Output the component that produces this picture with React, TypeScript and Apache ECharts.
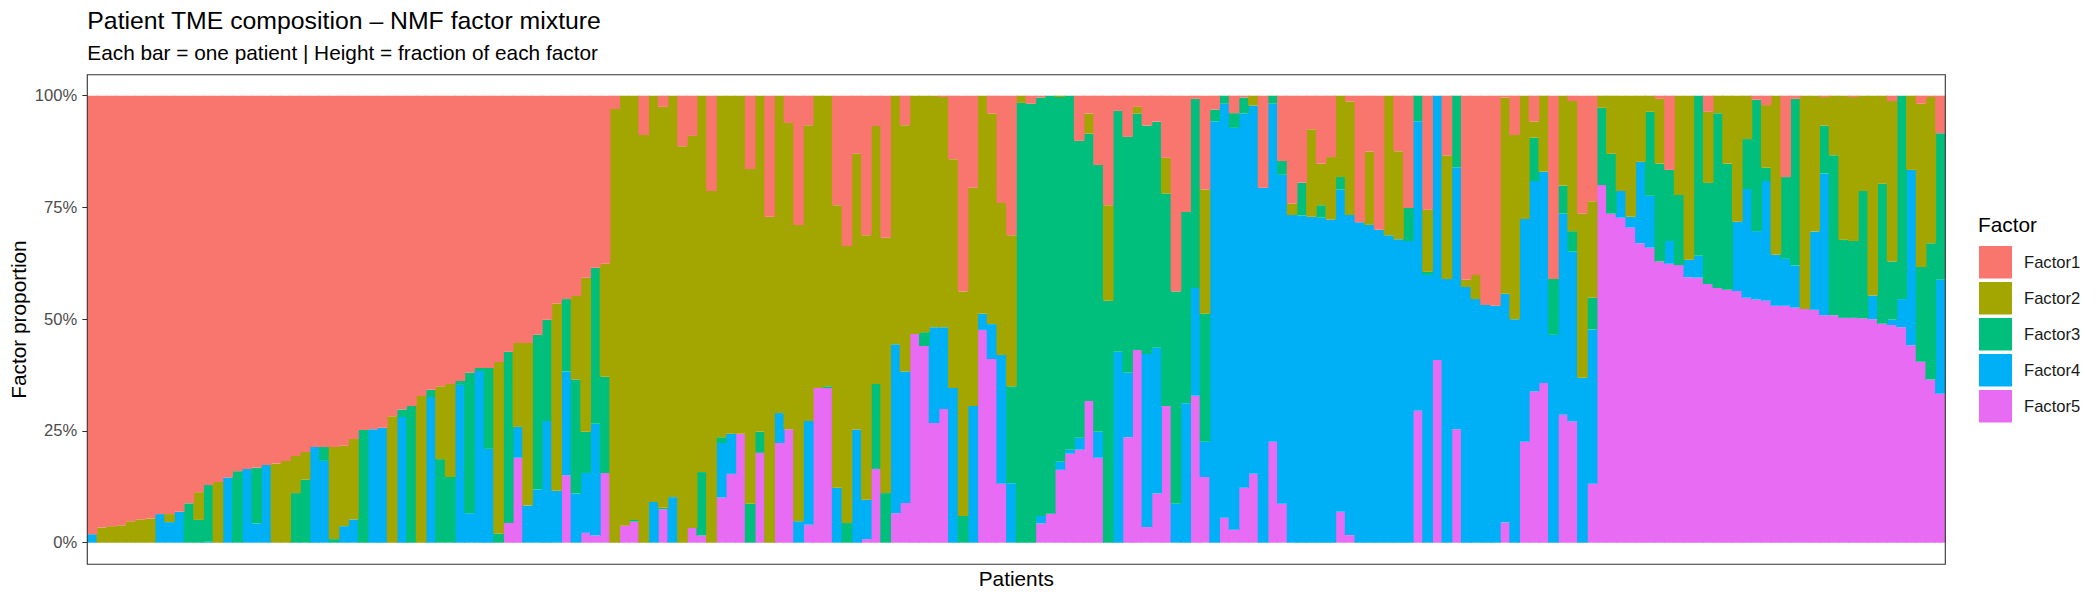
import React, { useEffect, useRef } from 'react';
import * as echarts from 'echarts';

// one column per patient, sorted by dominant factor
const patients = Array.from({ length: 192 }, (_, i) => `P${i + 1}`);

const factorNames = ['Factor1', 'Factor2', 'Factor3', 'Factor4', 'Factor5'];
const factorColors = ['#F8766D', '#A3A500', '#00BF7D', '#00B0F6', '#E76BF3'];

const yTicks = [0, 0.25, 0.5, 0.75, 1];

const factor1 = [
  0.981, 0.966, 0.963, 0.961, 0.952, 0.948, 0.946, 0.936, 0.936, 0.931,
  0.912, 0.887, 0.871, 0.864, 0.854, 0.840, 0.835, 0.832, 0.826, 0.823,
  0.817, 0.806, 0.797, 0.786, 0.786, 0.786, 0.783, 0.768, 0.748, 0.746,
  0.743, 0.717, 0.702, 0.694, 0.672, 0.658, 0.650, 0.645, 0.638, 0.620,
  0.609, 0.609, 0.596, 0.573, 0.553, 0.553, 0.535, 0.501, 0.465, 0.455,
  0.448, 0.407, 0.385, 0.376, 0.030, 0, 0, 0.088, 0, 0.025,
  0, 0.113, 0.090, 0, 0.213, 0, 0, 0, 0.164, 0,
  0.271, 0, 0.061, 0.289, 0.066, 0, 0, 0.245, 0.336, 0.130,
  0.312, 0.068, 0.318, 0, 0.066, 0, 0, 0, 0.003, 0.142,
  0.438, 0.206, 0, 0.040, 0.240, 0.312, 0, 0.018, 0.004, 0,
  0, 0, 0.101, 0.040, 0.155, 0.245, 0.034, 0.092, 0.025, 0.067,
  0.058, 0.139, 0.438, 0.260, 0.007, 0.210, 0.031, 0, 0.039, 0.004,
  0, 0.206, 0, 0.146, 0.242, 0.195, 0.075, 0.152, 0.137, 0,
  0.013, 0.283, 0.125, 0.300, 0, 0.124, 0.251, 0, 0.255, 0,
  0.134, 0, 0.412, 0.401, 0.468, 0.470, 0.004, 0.088, 0, 0.058,
  0, 0.410, 0, 0.012, 0.264, 0.236, 0, 0, 0, 0,
  0, 0, 0.007, 0.166, 0, 0, 0, 0.036, 0, 0,
  0, 0, 0.009, 0.021, 0, 0.182, 0.007, 0, 0, 0.003,
  0, 0, 0.003, 0, 0, 0, 0.012, 0, 0, 0.018,
  0.003, 0.084,
];

const factor2 = [
  0, 0.034, 0.037, 0.039, 0.048, 0.052, 0.054, 0, 0.018, 0,
  0, 0.062, 0, 0.136, 0, 0, 0, 0, 0, 0.177,
  0.183, 0.083, 0.062, 0, 0, 0.206, 0.180, 0.180, 0, 0,
  0, 0.283, 0, 0, 0.328, 0, 0.163, 0.208, 0, 0,
  0, 0, 0.384, 0, 0.188, 0.364, 0, 0, 0.419, 0,
  0.187, 0.345, 0, 0.253, 0.970, 0.962, 0.949, 0.912, 0.909, 0.897,
  0.898, 0.887, 0.877, 0.842, 0.787, 0.764, 0.756, 0.756, 0.749, 0.752,
  0.729, 0.710, 0.685, 0.663, 0.662, 0.654, 0.650, 0.632, 0.620, 0.617,
  0.592, 0.577, 0.571, 0.556, 0.551, 0.533, 0.529, 0.518, 0.515, 0.512,
  0.502, 0.488, 0.488, 0.471, 0.340, 0.338, 0.016, 0, 0, 0,
  0.003, 0, 0, 0.045, 0, 0.214, 0, 0, 0.015, 0,
  0, 0.080, 0, 0, 0, 0.278, 0, 0, 0, 0,
  0.022, 0, 0, 0, 0.025, 0, 0.196, 0.093, 0.140, 0.182,
  0.254, 0, 0.164, 0, 0.312, 0.197, 0, 0, 0.139, 0,
  0.276, 0, 0.016, 0.054, 0, 0, 0.439, 0.412, 0.276, 0.036,
  0.170, 0, 0.201, 0.291, 0.367, 0.216, 0.027, 0.130, 0.213, 0.271,
  0.148, 0.036, 0.145, 0, 0.222, 0.367, 0, 0.159, 0.039, 0.152,
  0.282, 0.097, 0, 0.140, 0.356, 0, 0, 0.477, 0.304, 0.064,
  0.133, 0.322, 0.322, 0.213, 0.447, 0.197, 0.359, 0, 0.166, 0.365,
  0.327, 0,
];

const factor3 = [
  0, 0, 0, 0, 0, 0, 0, 0, 0, 0,
  0.088, 0.051, 0.127, 0, 0, 0.160, 0, 0.125, 0, 0,
  0, 0.111, 0.141, 0, 0.031, 0.008, 0, 0, 0.252, 0,
  0, 0, 0.017, 0.306, 0, 0.016, 0.187, 0.147, 0.009, 0.314,
  0.007, 0.181, 0.020, 0.383, 0, 0, 0.346, 0.227, 0, 0.162,
  0.255, 0.092, 0.349, 0.215, 0, 0, 0.004, 0, 0, 0.003,
  0, 0, 0, 0.142, 0, 0.013, 0, 0, 0.087, 0.047,
  0, 0, 0, 0, 0, 0, 0.004, 0, 0.044, 0,
  0, 0.190, 0.111, 0, 0, 0, 0.031, 0, 0, 0,
  0.060, 0, 0, 0, 0, 0.217, 0.984, 0.982, 0.936, 0.935,
  0.816, 0.792, 0.664, 0.598, 0.597, 0.541, 0.539, 0.528, 0.529, 0.511,
  0.506, 0.475, 0.475, 0.428, 0.423, 0.286, 0.026, 0.018, 0.033, 0.036,
  0, 0, 0.018, 0.031, 0, 0.073, 0, 0.028, 0, 0.028,
  0, 0, 0, 0, 0, 0, 0.074, 0.057, 0.007, 0,
  0, 0.160, 0, 0, 0, 0, 0, 0, 0, 0.097,
  0, 0.125, 0.063, 0.046, 0, 0.071, 0.173, 0.134, 0, 0,
  0, 0.188, 0.219, 0.159, 0.157, 0, 0.358, 0.226, 0.391, 0.282,
  0, 0.112, 0.294, 0.030, 0, 0.183, 0.373, 0, 0, 0.107,
  0.358, 0.175, 0.172, 0.285, 0, 0.313, 0.130, 0.455, 0, 0.212,
  0.305, 0.328,
];

const factor4 = [
  0.019, 0, 0, 0, 0, 0, 0, 0.064, 0.046, 0.069,
  0, 0, 0.002, 0, 0.146, 0, 0.165, 0.043, 0.174, 0,
  0, 0, 0, 0.214, 0.183, 0, 0.037, 0.052, 0, 0.254,
  0.257, 0, 0.281, 0, 0, 0.326, 0, 0, 0.353, 0.066,
  0.384, 0.210, 0, 0, 0.069, 0.083, 0.119, 0.272, 0.116, 0.232,
  0.110, 0.134, 0.250, 0, 0, 0, 0, 0, 0.091, 0,
  0.102, 0, 0, 0, 0, 0.122, 0.090, 0, 0, 0,
  0, 0.067, 0, 0.048, 0.232, 0, 0, 0.123, 0, 0.253,
  0.088, 0, 0, 0.378, 0.294, 0, 0, 0.214, 0.183, 0.346,
  0, 0.306, 0.036, 0.078, 0.288, 0.133, 0, 0, 0.017, 0,
  0.018, 0.009, 0.027, 0, 0.058, 0, 0.427, 0.144, 0, 0.387,
  0.326, 0, 0.087, 0.312, 0.241, 0.079, 0.943, 0.926, 0.899, 0.837,
  0.824, 0.794, 0.756, 0.736, 0.733, 0.732, 0.729, 0.727, 0.723, 0.721,
  0.716, 0.717, 0.711, 0.700, 0.688, 0.679, 0.675, 0.648, 0.599, 0.591,
  0.590, 0.586, 0.572, 0.545, 0.532, 0.530, 0.512, 0.500, 0.498, 0.471,
  0.473, 0.465, 0.450, 0.380, 0.369, 0.345, 0, 0, 0.060, 0.024,
  0.182, 0.116, 0, 0.051, 0, 0.039, 0.049, 0, 0, 0,
  0.155, 0.243, 0.153, 0.268, 0.114, 0.105, 0.094, 0, 0.175, 0.317,
  0, 0, 0, 0, 0.053, 0, 0.012, 0.063, 0.392, 0,
  0, 0.255,
];

const factor5 = [
  0, 0, 0, 0, 0, 0, 0, 0, 0, 0,
  0, 0, 0, 0, 0, 0, 0, 0, 0, 0,
  0, 0, 0, 0, 0, 0, 0, 0, 0, 0,
  0, 0, 0, 0, 0, 0, 0, 0, 0, 0,
  0, 0, 0, 0.044, 0.190, 0, 0, 0, 0, 0.151,
  0, 0.022, 0.016, 0.156, 0, 0.038, 0.047, 0, 0, 0.075,
  0, 0, 0.033, 0.016, 0, 0.101, 0.154, 0.244, 0, 0.201,
  0, 0.223, 0.254, 0, 0.040, 0.346, 0.346, 0, 0, 0,
  0.008, 0.165, 0, 0.066, 0.089, 0.467, 0.440, 0.268, 0.299, 0,
  0, 0, 0.476, 0.411, 0.132, 0, 0, 0, 0.043, 0.065,
  0.163, 0.199, 0.208, 0.317, 0.190, 0, 0, 0.236, 0.431, 0.035,
  0.110, 0.306, 0, 0, 0.329, 0.147, 0, 0.056, 0.029, 0.123,
  0.154, 0, 0.226, 0.087, 0, 0, 0, 0, 0, 0.069,
  0.017, 0, 0, 0, 0, 0, 0, 0.295, 0, 0.409,
  0, 0.254, 0, 0, 0, 0, 0.045, 0, 0.226, 0.338,
  0.357, 0, 0.286, 0.271, 0, 0.132, 0.800, 0.736, 0.727, 0.705,
  0.670, 0.660, 0.629, 0.624, 0.621, 0.594, 0.593, 0.579, 0.570, 0.566,
  0.563, 0.548, 0.544, 0.541, 0.530, 0.530, 0.526, 0.523, 0.521, 0.509,
  0.509, 0.503, 0.503, 0.502, 0.500, 0.490, 0.487, 0.482, 0.442, 0.405,
  0.365, 0.333,
];

const factorValues = [factor1, factor2, factor3, factor4, factor5];

const FONT = 'Liberation Sans, Arial, Helvetica, sans-serif';

// panel (ggplot) geometry in px
const PANEL = { left: 87.3, right: 1945.3, top: 74.7, bottom: 564.3 };
const DATA_TOP = 95.7;
const DATA_BOTTOM = 542.7;
// band is ~9.68px; bars are drawn 1px wider so neighbours overlap and no
// anti-aliasing seam shows between them
const BAR_PX = 10.7;

const App: React.FC = () => {
  const chartRef = useRef<HTMLDivElement>(null);

  useEffect(() => {
    if (!chartRef.current) return;
    const chart = echarts.init(chartRef.current, null, { renderer: 'svg' });

    // ECharts stacks the first series at the bottom, ggplot puts Factor1 on top
    const series: any[] = [4, 3, 2, 1, 0].map((i) => ({
      name: factorNames[i],
      type: 'bar',
      stack: 'total',
      barWidth: BAR_PX,
      silent: true,
      clip: true,
      itemStyle: { color: factorColors[i] },
      emphasis: { disabled: true },
      data: factorValues[i].map((v) => (v === 0 ? '-' : v)),
    }));

    const option: any = {
      animation: false,
      backgroundColor: '#ffffff',
      grid: {
        left: PANEL.left,
        right: 2100 - PANEL.right,
        top: DATA_TOP,
        bottom: 600 - DATA_BOTTOM,
        containLabel: false,
      },
      xAxis: {
        type: 'category',
        data: patients,
        boundaryGap: true,
        axisLine: { show: false },
        axisTick: { show: false },
        axisLabel: { show: false },
        splitLine: { show: false },
      },
      yAxis: {
        type: 'value',
        min: 0,
        max: 1,
        interval: 0.25,
        axisLine: { show: false },
        axisTick: { show: true, length: 5, lineStyle: { color: '#333333', width: 1 } },
        splitLine: { show: false },
        axisLabel: {
          margin: 10,
          color: '#4D4D4D',
          fontSize: 16.6,
          fontFamily: FONT,
          formatter: (v: number) =>
            yTicks.includes(v) ? `${Math.round(v * 100)}%` : '',
        },
      },
      legend: {
        orient: 'vertical',
        left: 1979,
        top: 246,
        padding: 0,
        itemWidth: 33,
        itemHeight: 32.5,
        itemGap: 3.5,
        icon: 'rect',
        selectedMode: false,
        data: factorNames,
        textStyle: {
          fontSize: 16.6,
          fontFamily: FONT,
          color: '#1A1A1A',
          padding: [0, 0, 0, 7],
        },
      },
      graphic: [
        {
          type: 'rect',
          z: 100,
          silent: true,
          shape: {
            x: PANEL.left,
            y: PANEL.top,
            width: PANEL.right - PANEL.left,
            height: PANEL.bottom - PANEL.top,
          },
          style: { fill: 'none', stroke: '#333333', lineWidth: 1.1 },
        },
        {
          type: 'text',
          x: PANEL.left,
          y: 20,
          style: {
            text: 'Patient TME composition – NMF factor mixture',
            fontSize: 24.8,
            fontFamily: FONT,
            fill: '#000000',
            align: 'left',
            verticalAlign: 'middle',
          },
        },
        {
          type: 'text',
          x: PANEL.left,
          y: 52,
          style: {
            text: 'Each bar = one patient | Height = fraction of each factor',
            fontSize: 20.8,
            fontFamily: FONT,
            fill: '#000000',
            align: 'left',
            verticalAlign: 'middle',
          },
        },
        {
          type: 'text',
          x: 18.7,
          y: (PANEL.top + PANEL.bottom) / 2,
          rotation: Math.PI / 2,
          style: {
            text: 'Factor proportion',
            fontSize: 20.8,
            fontFamily: FONT,
            fill: '#000000',
            align: 'center',
            verticalAlign: 'middle',
          },
        },
        {
          type: 'text',
          x: (PANEL.left + PANEL.right) / 2,
          y: 578.5,
          style: {
            text: 'Patients',
            fontSize: 20.8,
            fontFamily: FONT,
            fill: '#000000',
            align: 'center',
            verticalAlign: 'middle',
          },
        },
        {
          type: 'text',
          x: 1978,
          y: 224,
          style: {
            text: 'Factor',
            fontSize: 20.8,
            fontFamily: FONT,
            fill: '#000000',
            align: 'left',
            verticalAlign: 'middle',
          },
        },
      ],
      series,
    };

    chart.setOption(option);

    return () => {
      chart.dispose();
    };
  }, []);

  return (
    <div
      ref={chartRef}
      style={{ position: 'fixed', left: 0, top: 0, width: '2100px', height: '600px', background: '#fff' }}
    />
  );
};

export default App;
